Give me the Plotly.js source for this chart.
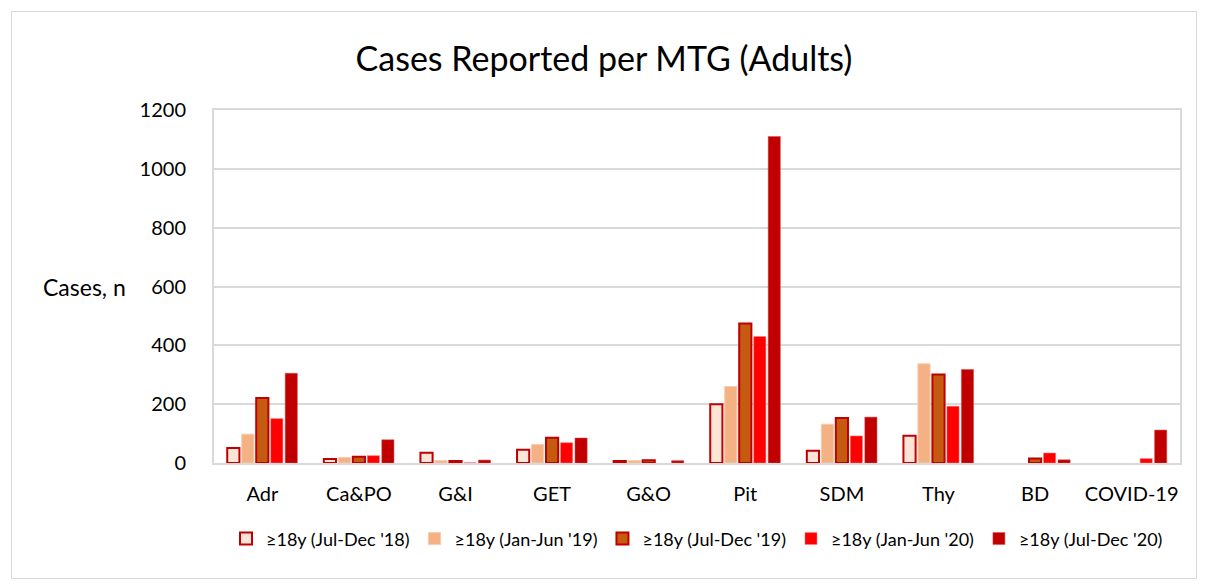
<!DOCTYPE html>
<html>
<head>
<meta charset="utf-8">
<script src="https://cdn.plot.ly/plotly-3.0.1.min.js"></script>
<style>
  body { margin: 0; background: #fff; }
  #plot1 { position: absolute; left: 11px; top: 11px; width: 1186px; height: 568px;
           border: 1px solid #d9d9d9; box-sizing: border-box; }
</style>
</head>
<body>
<div id="plot1"></div>
<script>
// CASES REPORTED PER MTG (ADULTS)
// Categories and series values (null = nothing reported in that period)
let mtg_groups = ["Adr", "Ca&PO", "G&I", "GET", "G&O", "Pit", "SDM", "Thy", "BD", "COVID-19"]
let series_names = ["≥18y (Jul-Dec '18)", "≥18y (Jan-Jun '19)", "≥18y (Jul-Dec '19)", "≥18y (Jan-Jun '20)", "≥18y (Jul-Dec '20)"]

let jul_dec_18 = [51, 14, 35, 45, 7, 200, 42, 93, null, null]
let jan_jun_19 = [98, 19, 8, 63, 8, 260, 132, 337, null, null]
let jul_dec_19 = [221, 21, 7, 86, 9, 474, 153, 301, 15, null]
let jan_jun_20 = [151, 25, 1, 69, null, 430, 92, 193, 34, 15]
let jul_dec_20 = [305, 79, 10, 85, 8, 1110, 156, 318, 11, 112]

let y_ticks = [0, 200, 400, 600, 800, 1000, 1200]

// Set up one trace per reporting period
let series_values = [jul_dec_18, jan_jun_19, jul_dec_19, jan_jun_20, jul_dec_20]
let fills = ["#fbe5d6", "#f4b183", "#c55a11", "#ff0000", "#c00000"]
let outlines = ["#c00000", "#f8cbad", "#c00000", "#ff7f7f", "#d94b4b"]
let outline_widths = [2, 1, 2, 0.5, 0.5]

let plot_data = series_values.map((vals, i) => ({
    type: "bar",
    name: series_names[i],
    x: mtg_groups,
    y: vals,
    marker: {color: fills[i], line: {color: outlines[i], width: outline_widths[i]}},
    hoverinfo: "x+y+name"
  }));

let plot_layout = {
    width: 1184,
    height: 566,
    margin: {l: 202, r: 16, t: 98, b: 115},
    paper_bgcolor: "#fff",
    plot_bgcolor: "#fff",
    font: {family: "Lato, 'Open Sans', sans-serif", color: "#000", size: 20},
    title: {text: "Cases Reported per MTG (Adults)", font: {size: 34, color: "#000"},
            x: 0.5, xanchor: "center", y: 0.917, yanchor: "middle"},
    barmode: "group",
    bargap: 0.25,
    bargroupgap: 0.16,
    xaxis: {
      showline: true, mirror: true, linecolor: "#d9d9d9", linewidth: 2,
      ticks: "", ticklabelstandoff: 12,
      tickfont: {size: 20, color: "#000"}
    },
    yaxis: {
      range: [0, 1200], tickvals: y_ticks,
      showgrid: true, gridcolor: "#d9d9d9", gridwidth: 1.5,
      showline: true, mirror: true, linecolor: "#d9d9d9", linewidth: 2,
      zeroline: false, ticks: "", ticklabelstandoff: 22,
      tickfont: {size: 20, color: "#000"}
    },
    legend: {
      orientation: "h", x: 0.5, xanchor: "center", y: -0.215, yanchor: "middle",
      font: {size: 18, color: "#000"}, traceorder: "normal"
    },
    annotations: [{
      text: "Cases, n", xref: "paper", yref: "paper", x: -0.089, y: 0.5,
      xanchor: "right", yanchor: "middle", showarrow: false,
      font: {size: 23, color: "#000"}
    }]
  };

Plotly.newPlot("plot1", plot_data, plot_layout, {displayModeBar: false});
</script>
</body>
</html>
